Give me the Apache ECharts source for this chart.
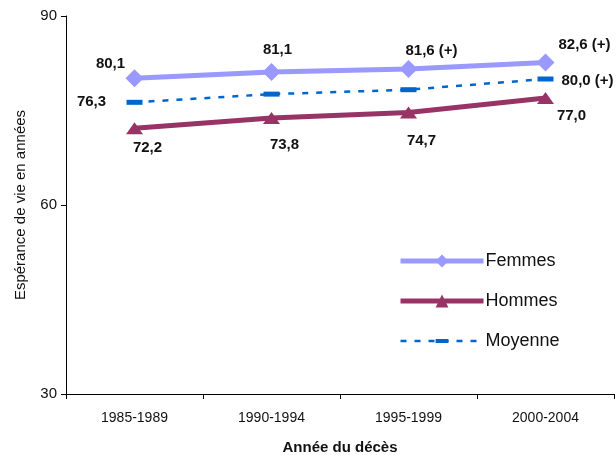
<!DOCTYPE html>
<html>
<head>
<meta charset="utf-8">
<script src="https://cdn.jsdelivr.net/npm/echarts@6/dist/echarts.min.js"></script>
<style>
html,body{margin:0;padding:0;background:#fff;}
#chart{width:616px;height:455px;}
</style>
</head>
<body>
<div id="chart"></div>
<script>
const categories = ['1985-1989', '1990-1994', '1995-1999', '2000-2004'];
const femmes = [80.1, 81.1, 81.6, 82.6];
const hommes = [72.2, 73.8, 74.7, 77.0];
const moyenne = [76.3, 77.6, 78.3, 80.0];
const femmesLabels = ['80,1', '81,1', '81,6 (+)', '82,6 (+)'];
const hommesLabels = ['72,2', '73,8', '74,7', '77,0'];
const moyenneLabels = ['76,3', '', '', '80,0 (+)'];
const yTicks = [30, 60, 90];

const FONT = '"Liberation Sans", Arial, sans-serif';
const labelBase = {show: true, fontFamily: FONT, fontSize: 15, fontWeight: 'bold', color: '#111'};

const femmesOffsets = [[-24, -15], [6, -22], [23, -18], [39, -18]];
const hommesOffsets = [[13, 20], [13, 27], [13, 28], [26, 18]];
const moyenneOffsets = [[-43, 0], [0, 0], [0, 0], [42, 2]];

function mk(vals, labels, offsets) {
  return vals.map((v, i) => ({
    value: v,
    label: Object.assign({}, labelBase, {formatter: labels[i], offset: offsets[i], position: 'inside', show: labels[i] !== ''})
  }));
}

// horizontal dash inside a square bounding box
const dashPath = 'path://M0,-5.5M16,10.5M0,0L16,0L16,5L0,5Z';

const chart = echarts.init(document.getElementById('chart'), null, {renderer: 'canvas'});
chart.setOption({
  animation: false,
  backgroundColor: '#fff',
  grid: {left: 66, right: 2, top: 16, bottom: 61, containLabel: false, outerBoundsMode: 'none'},
  legend: {
    orient: 'vertical',
    left: 398, top: 252,
    padding: 0,
    itemWidth: 83, itemHeight: 16,
    itemGap: 22,
    textStyle: {fontFamily: FONT, fontSize: 18, color: '#111', padding: [0, 0, 0, -3]},
    data: [
      {name: 'Femmes', lineStyle: {width: 5}},
      {name: 'Hommes', lineStyle: {width: 5}},
      {name: 'Moyenne', lineStyle: {width: 2.5}}
    ]
  },
  xAxis: {
    type: 'category',
    data: categories,
    boundaryGap: true,
    name: 'Année du décès',
    nameLocation: 'middle',
    nameGap: 46,
    nameTextStyle: {fontFamily: FONT, fontSize: 15, fontWeight: 'bold', color: '#111'},
    axisLine: {lineStyle: {color: '#000', width: 1}},
    axisTick: {show: true, length: 5, lineStyle: {color: '#000'}},
    axisLabel: {fontFamily: FONT, fontSize: 14, color: '#111', margin: 17},
    splitLine: {show: false}
  },
  yAxis: {
    type: 'value',
    min: yTicks[0], max: yTicks[yTicks.length - 1], interval: 30,
    name: 'Espérance de vie en années',
    nameLocation: 'middle',
    nameGap: 38,
    nameTextStyle: {fontFamily: FONT, fontSize: 15, color: '#111'},
    axisLine: {show: true, lineStyle: {color: '#000', width: 1}},
    axisTick: {show: true, length: 5, lineStyle: {color: '#000'}},
    axisLabel: {fontFamily: FONT, fontSize: 15, color: '#111', margin: 9},
    splitLine: {show: false}
  },
  series: [
    {
      name: 'Femmes', type: 'line',
      data: mk(femmes, femmesLabels, femmesOffsets),
      symbol: 'diamond', symbolSize: 18,
      itemStyle: {color: '#9999FF'},
      lineStyle: {color: '#9999FF', width: 5},
      z: 3
    },
    {
      name: 'Hommes', type: 'line',
      data: mk(hommes, hommesLabels, hommesOffsets),
      symbol: 'triangle', symbolSize: [17, 12],
      itemStyle: {color: '#993366'},
      lineStyle: {color: '#993366', width: 5},
      z: 3
    },
    {
      name: 'Moyenne', type: 'line',
      data: mk(moyenne, moyenneLabels, moyenneOffsets),
      symbol: dashPath, symbolSize: 16,
      itemStyle: {color: '#0066CC'},
      lineStyle: {color: '#0066CC', width: 2.5, type: [6, 8]},
      z: 2
    }
  ]
});
</script>
</body>
</html>
